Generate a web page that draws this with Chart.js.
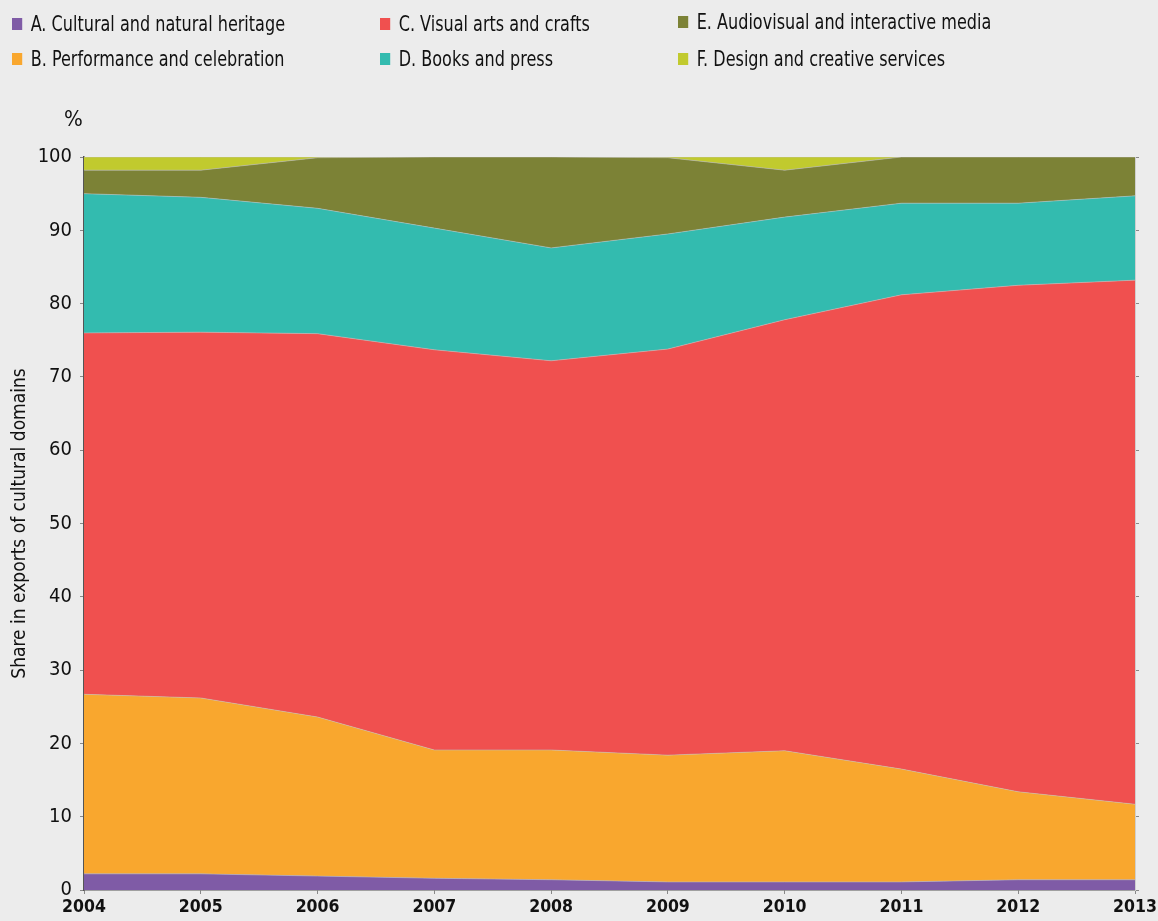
<!DOCTYPE html>
<html>
<head>
<meta charset="utf-8">
<script src="https://cdn.jsdelivr.net/npm/chart.js@4.4.1/dist/chart.umd.min.js"></script>
<style>
    html, body { margin: 0; padding: 0; background: #ececec; }
    body { width: 1158px; height: 921px; position: relative; overflow: hidden;
           font-family: "DejaVu Sans Condensed", "Liberation Sans Narrow", sans-serif; color: #111; }
    #legend { position: absolute; left: 0; top: 0; width: 1158px; height: 80px; z-index: 2; }
    .item { position: absolute; font-size: 21px; line-height: 24px; white-space: nowrap;
            transform: scaleX(0.85); transform-origin: left center; }
    .item span.sw { display: inline-block; width: 12px; height: 12px; margin-right: 10px; vertical-align: 1px; }
    #pct { position: absolute; left: 64px; top: 106px; font-size: 22px; z-index: 2; }
    #chart { position: absolute; left: 0; top: 0; }
</style>
</head>
<body>
<canvas id="chart" width="1158" height="921"></canvas>
<div id="legend"></div>
<div id="pct">%</div>
<script>
    const years = ['2004', '2005', '2006', '2007', '2008', '2009', '2010', '2011', '2012', '2013'];

    // share of each domain, %
    const heritage    = [2.2, 2.2, 1.9, 1.6, 1.4, 1.1, 1.1, 1.1, 1.4, 1.4];
    const performance = [24.5, 24.0, 21.7, 17.5, 17.7, 17.3, 17.9, 15.4, 12.0, 10.3];
    const visualArts  = [49.3, 49.9, 52.3, 54.6, 53.1, 55.4, 58.8, 64.7, 69.1, 71.5];
    const books       = [19.0, 18.4, 17.1, 16.6, 15.4, 15.7, 14.0, 12.5, 11.2, 11.5];
    const audiovisual = [3.2, 3.7, 6.9, 9.7, 12.4, 10.4, 6.4, 6.3, 6.3, 5.3];
    const design      = [1.8, 1.8, 0.1, 0.0, 0.0, 0.1, 1.8, 0.0, 0.0, 0.0];

    const series = [
        { label: 'A. Cultural and natural heritage', data: heritage, color: '#7f5ba6' },
        { label: 'B. Performance and celebration', data: performance, color: '#f9a72e' },
        { label: 'C. Visual arts and crafts', data: visualArts, color: '#f0504f' },
        { label: 'D. Books and press', data: books, color: '#33bbaf' },
        { label: 'E. Audiovisual and interactive media', data: audiovisual, color: '#7c8236' },
        { label: 'F. Design and creative services', data: design, color: '#c1ca2e' }
    ];

    // legend, 3 columns x 2 rows
    const legendPos = [[12, 12], [12, 47], [380, 12], [380, 47], [678, 10], [678, 47]];
    const legend = document.getElementById('legend');
    series.forEach((s, i) => {
        const div = document.createElement('div');
        div.className = 'item';
        div.style.left = legendPos[i][0] + 'px';
        div.style.top = legendPos[i][1] + 'px';
        div.innerHTML = '<span class="sw" style="background:' + s.color + '"></span>' + s.label;
        legend.appendChild(div);
    });

    const font = "'DejaVu Sans Condensed', 'Liberation Sans Narrow', sans-serif";
    const tickGrid = {
        drawOnChartArea: false,
        drawTicks: true,
        tickLength: 4,
        color: '#888'
    };

    new Chart(document.getElementById('chart'), {
        type: 'line',
        data: {
            labels: years,
            datasets: series.map((s, i) => ({
                label: s.label,
                data: s.data,
                backgroundColor: s.color,
                borderColor: 'rgba(190,190,190,0.7)',
                borderWidth: 0.8,
                pointRadius: 0,
                tension: 0,
                fill: i === 0 ? 'origin' : '-1'
            }))
        },
        options: {
            responsive: false,
            animation: false,
            devicePixelRatio: 1,
            layout: { padding: { top: 157, right: 23, left: 0, bottom: 0 } },
            plugins: { legend: { display: false }, tooltip: { enabled: false } },
            scales: {
                x: {
                    offset: false,
                    grid: tickGrid,
                    border: { color: '#555', width: 1.5 },
                    ticks: { color: '#111', padding: 3, maxRotation: 0, font: { family: font, size: 17.5, weight: 'bold' } },
                    afterFit: s => { s.height = 31; s.paddingRight = 0; s.paddingLeft = 0; }
                },
                y: {
                    stacked: true,
                    min: 0,
                    max: 100,
                    grid: tickGrid,
                    border: { color: '#555', width: 1.5 },
                    ticks: { stepSize: 10, color: '#111', padding: 8, font: { family: font, size: 20 } },
                    title: {
                        display: true,
                        text: 'Share in exports of cultural domains',
                        color: '#111',
                        padding: { top: 9, bottom: 0 },
                        font: { family: font, size: 19 }
                    },
                    afterFit: s => { s.width = 84; s.paddingTop = 0; s.paddingBottom = 0; }
                },
                y2: {
                    position: 'right',
                    min: 0,
                    max: 100,
                    grid: tickGrid,
                    border: { color: '#cfcfcf', width: 1 },
                    ticks: { stepSize: 10, callback: () => '' },
                    afterFit: s => { s.width = 0; s.paddingTop = 0; s.paddingBottom = 0; }
                }
            }
        }
    });
</script>
</body>
</html>
